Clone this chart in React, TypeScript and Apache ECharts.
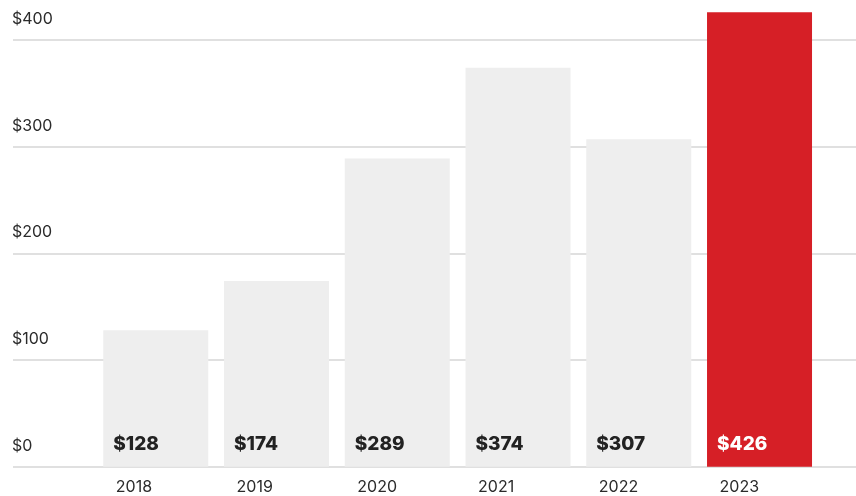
import React, { useEffect, useRef } from "react";
import * as echarts from "echarts";

const years = ["2018", "2019", "2020", "2021", "2022", "2023"];
const values = [128, 174, 289, 374, 307, 426];
const yTicks = [0, 100, 200, 300, 400];

const FONT = "Inter";

export default function App() {
  const ref = useRef<HTMLDivElement>(null);
  useEffect(() => {
    if (!ref.current) return;
    const chart = echarts.init(ref.current, undefined, { renderer: "svg" });
    const barData = values.map((v, i) => {
      const last = i === values.length - 1;
      return {
        value: v,
        itemStyle: { color: last ? "#d61f26" : "#eeeeee" },
        label: { color: last ? "#ffffff" : "#222222" },
      };
    });
    chart.setOption({
      animation: false,
      grid: [
        { left: 13, right: 0, top: 40, bottom: 29.3 },
        { left: 95.4, right: 36.1, top: 40, bottom: 29.3 },
        { left: 55.4, right: 76.1, top: 40, bottom: 29.3 },
      ],
      xAxis: [
        { gridIndex: 0, type: "category", data: years, show: false },
        {
          gridIndex: 1,
          type: "category",
          data: years,
          axisLine: { show: false },
          axisTick: { show: false },
          axisLabel: { show: false },
        },
        {
          gridIndex: 2,
          type: "category",
          data: years,
          axisLine: { show: false },
          axisTick: { show: false },
          axisLabel: {
            align: "left",
            margin: 11,
            fontFamily: FONT,
            fontSize: 16,
            color: "#2b2b2b",
          },
        },
      ],
      yAxis: [
        {
          gridIndex: 0,
          type: "value",
          min: yTicks[0],
          max: yTicks[yTicks.length - 1],
          interval: 100,
          axisLine: { show: false },
          axisTick: { show: false },
          splitLine: { lineStyle: { color: "#d6d6d6", width: 1.5 } },
          axisLabel: {
            inside: true,
            margin: -1,
            align: "left",
            verticalAlign: "bottom",
            padding: [0, 0, 14, 0],
            fontFamily: FONT,
            fontSize: 16,
            color: "#2b2b2b",
            formatter: (v: number) => "$" + v,
          },
        },
        { gridIndex: 1, type: "value", min: 0, max: 400, show: false },
        { gridIndex: 2, type: "value", min: 0, max: 400, show: false },
      ],
      series: [
        {
          type: "bar",
          xAxisIndex: 1,
          yAxisIndex: 1,
          barWidth: 105,
          clip: false,
          data: barData,
          label: {
            show: true,
            position: [10, "100%"],
            offset: [0, -23],
            align: "left",
            verticalAlign: "middle",
            fontFamily: FONT,
            fontWeight: 800,
            fontSize: 19,
            formatter: (p: any) => "$" + p.value,
          },
        },
      ],
    });
    return () => chart.dispose();
  }, []);
  return (
    <div
      ref={ref}
      style={{ position: "fixed", left: 0, top: 0, width: 856, height: 496 }}
    />
  );
}
